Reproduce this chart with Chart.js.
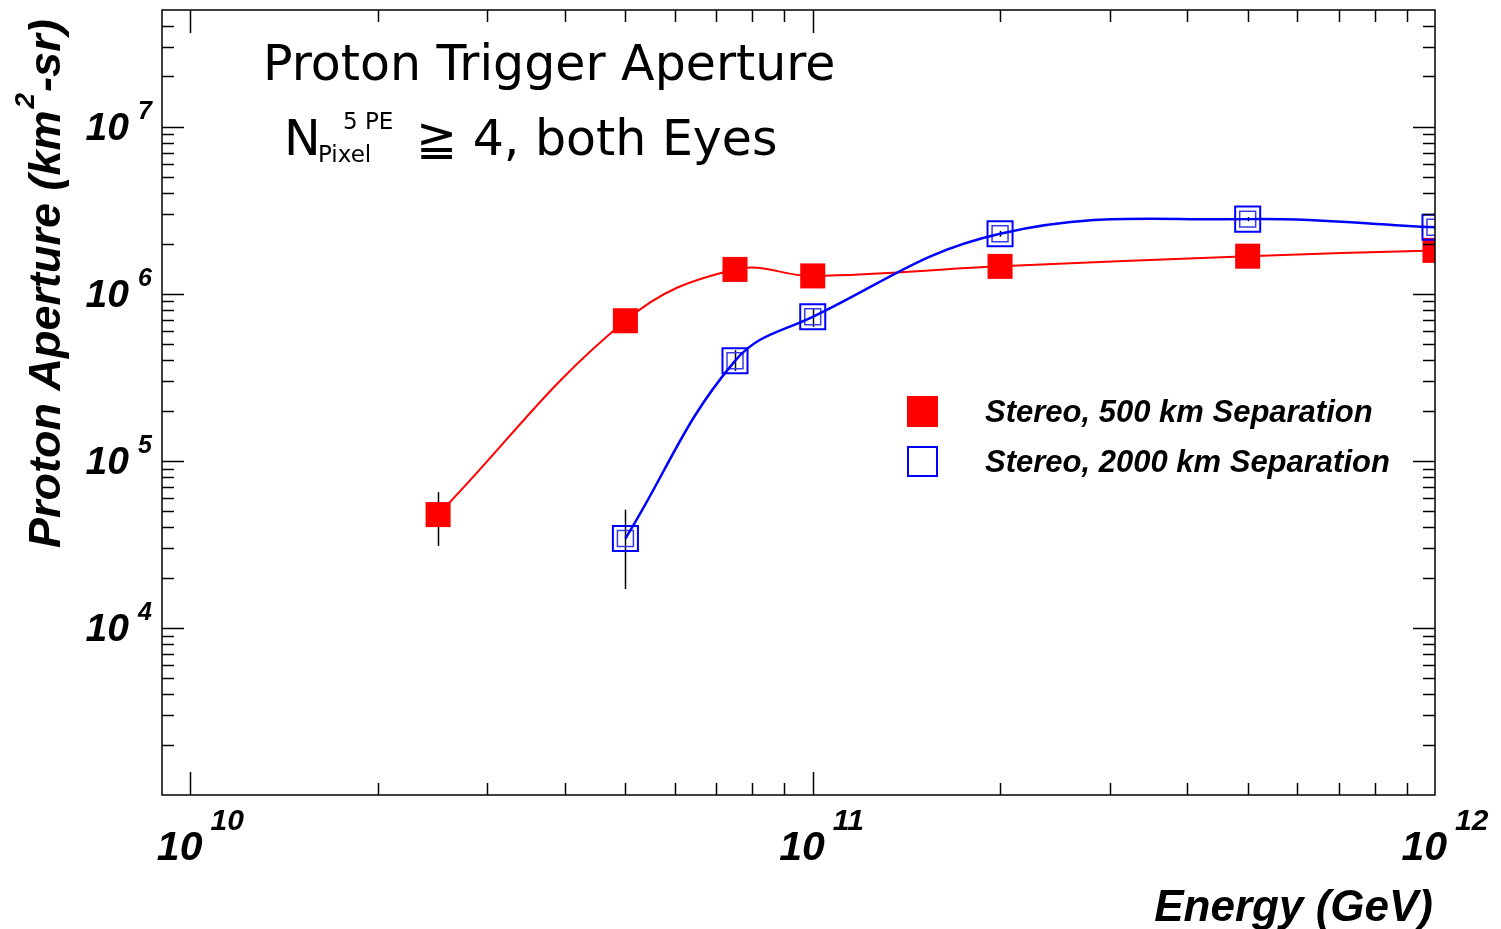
<!DOCTYPE html>
<html>
<head>
<meta charset="utf-8">
<script src="https://cdn.jsdelivr.net/npm/chart.js@4/dist/chart.umd.min.js"></script>
<style>
  html, body { margin: 0; padding: 0; background: #fff; }
  canvas { display: block; }
</style>
</head>
<body>
<canvas id="aperture" width="1501" height="929"></canvas>
<script>
// energies in GeV, aperture in km^2 sr
const energy500 = [2.5e10, 5e10, 7.5e10, 1e11, 2e11, 5e11, 1e12];
const aperture500 = [4.77e4, 6.9e5, 1.40e6, 1.28e6, 1.46e6, 1.68e6, 1.82e6];
const errLow500 = [3.1e4, 6.6e5, 1.36e6, 1.24e6, 1.42e6, 1.64e6, 1.78e6];
const errHigh500 = [6.5e4, 7.2e5, 1.44e6, 1.32e6, 1.50e6, 1.72e6, 1.86e6];

const energy2000 = [5e10, 7.5e10, 1e11, 2e11, 5e11, 1e12];
const aperture2000 = [3.43e4, 3.97e5, 7.28e5, 2.29e6, 2.8e6, 2.5e6];
const errLow2000 = [1.71e4, 3.45e5, 6.34e5, 2.2e6, 2.72e6, 2.42e6];
const errHigh2000 = [5.1e4, 4.6e5, 8.2e5, 2.38e6, 2.88e6, 2.58e6];

const seriesLabels = ['Stereo, 500 km Separation', 'Stereo, 2000 km Separation'];
const xDecades = [10, 11, 12];
const yDecades = [4, 5, 6, 7];

const RED = '#ff0000';
const BLUE = '#0000ff';
const LABEL_FONT = '"Liberation Sans", Arial, sans-serif';
const TITLE_FONT = '"DejaVu Sans", sans-serif';

function points(xs, ys) {
    return xs.map((x, i) => ({ x: x, y: ys[i] }));
}

// vertical error bars, drawn under the markers
const errorBars = {
    id: 'errorBars',
    beforeDatasetsDraw(chart) {
        const { ctx, scales: { x, y }, chartArea } = chart;
        const sets = [
            [energy500, errLow500, errHigh500],
            [energy2000, errLow2000, errHigh2000]
        ];
        ctx.save();
        ctx.beginPath();
        ctx.rect(chartArea.left, chartArea.top, chartArea.width, chartArea.height);
        ctx.clip();
        ctx.strokeStyle = '#000';
        ctx.lineWidth = 1.5;
        sets.forEach(([xs, lo, hi]) => {
            xs.forEach((e, i) => {
                const px = Math.round(x.getPixelForValue(e)) + 0.5;
                ctx.beginPath();
                ctx.moveTo(px, y.getPixelForValue(lo[i]));
                ctx.lineTo(px, y.getPixelForValue(hi[i]));
                ctx.stroke();
            });
        });
        ctx.restore();
    }
};

// closed frame with inward ticks on all four sides and 10^n labels
const rootFrame = {
    id: 'rootFrame',
    afterDatasetsDraw(chart) {
        const { ctx, scales: { x, y }, chartArea: a } = chart;
        ctx.save();
        ctx.strokeStyle = '#000';
        ctx.lineWidth = 1.5;
        ctx.strokeRect(a.left, a.top, a.right - a.left, a.bottom - a.top);

        const tick = (x1, y1, x2, y2) => {
            ctx.beginPath();
            ctx.moveTo(x1, y1);
            ctx.lineTo(x2, y2);
            ctx.stroke();
        };

        // x axis ticks
        for (let d = 9; d <= 11; d++) {
            for (let m = 1; m <= 9; m++) {
                const v = m * Math.pow(10, d);
                if (v <= x.min * 1.001 || v >= x.max * 0.999) continue;
                const px = Math.round(x.getPixelForValue(v)) + 0.5;
                const len = m === 1 ? 23 : 12;
                tick(px, a.bottom, px, a.bottom - len);
                tick(px, a.top, px, a.top + len);
            }
        }
        // y axis ticks
        for (let d = 3; d <= 7; d++) {
            for (let m = 1; m <= 9; m++) {
                const v = m * Math.pow(10, d);
                if (v <= y.min * 1.001 || v >= y.max * 0.999) continue;
                const py = Math.round(y.getPixelForValue(v)) + 0.5;
                const len = m === 1 ? 22 : 12;
                tick(a.left, py, a.left + len, py);
                tick(a.right, py, a.right - len, py);
            }
        }

        ctx.fillStyle = '#000';
        ctx.textBaseline = 'alphabetic';
        // x labels
        xDecades.forEach(d => {
            const px = x.getPixelForValue(Math.pow(10, d));
            ctx.font = 'italic bold 41px ' + LABEL_FONT;
            ctx.textAlign = 'right';
            ctx.fillText('10', px + 12, 860);
            ctx.font = 'italic bold 30px ' + LABEL_FONT;
            ctx.textAlign = 'left';
            ctx.fillText(String(d), px + 20, 830);
        });
        // y labels
        yDecades.forEach(d => {
            const py = y.getPixelForValue(Math.pow(10, d));
            ctx.font = 'italic bold 39px ' + LABEL_FONT;
            ctx.textAlign = 'right';
            ctx.fillText('10', 129, py + 13.5);
            ctx.font = 'italic bold 25px ' + LABEL_FONT;
            ctx.textAlign = 'left';
            ctx.fillText(String(d), 138, py - 8);
        });
        ctx.restore();
    }
};

// axis titles, plot title and the marker legend
const annotations = {
    id: 'annotations',
    afterDraw(chart) {
        const { ctx } = chart;
        ctx.save();
        ctx.fillStyle = '#000';
        ctx.textAlign = 'left';
        ctx.textBaseline = 'alphabetic';

        // x title
        ctx.font = 'italic bold 44px ' + LABEL_FONT;
        ctx.textAlign = 'right';
        ctx.fillText('Energy (GeV)', 1433, 921);

        // y title, rotated
        ctx.save();
        ctx.translate(60, 548);
        ctx.rotate(-Math.PI / 2);
        ctx.textAlign = 'left';
        ctx.font = 'italic bold 45px ' + LABEL_FONT;
        let cx = 0;
        const part1 = 'Proton Aperture (km';
        ctx.fillText(part1, cx, 0);
        cx += ctx.measureText(part1).width + 2;
        ctx.font = 'italic bold 28px ' + LABEL_FONT;
        ctx.fillText('2', cx, -26);
        cx += ctx.measureText('2').width + 1;
        ctx.font = 'italic bold 45px ' + LABEL_FONT;
        ctx.fillText('-sr)', cx, 0);
        ctx.restore();

        // plot title
        ctx.textAlign = 'left';
        ctx.font = '49px ' + TITLE_FONT;
        ctx.fillText('Proton Trigger Aperture', 263, 80);
        ctx.fillText('N', 284, 155);
        ctx.font = '23px ' + TITLE_FONT;
        ctx.fillText('Pixel', 318, 162);
        ctx.fillText('5 PE', 343, 129);
        ctx.font = '49px ' + TITLE_FONT;
        ctx.fillText('\u2267 4, both Eyes', 416, 155);

        // legend
        const ds = chart.data.datasets;
        ctx.fillStyle = ds[0].pointBackgroundColor;
        ctx.fillRect(907, 396, 31, 31);
        ctx.strokeStyle = ds[1].pointBorderColor;
        ctx.lineWidth = 2;
        ctx.strokeRect(908, 447, 29, 29);
        ctx.fillStyle = '#000';
        ctx.font = 'italic bold 31px ' + LABEL_FONT;
        ctx.fillText(seriesLabels[0], 985, 422);
        ctx.fillText(seriesLabels[1], 985, 472);
        ctx.restore();
    }
};

new Chart(document.getElementById('aperture'), {
    type: 'line',
    data: {
        datasets: [
            {
                label: seriesLabels[0],
                data: points(energy500, aperture500),
                borderColor: RED,
                borderWidth: 2,
                tension: 0.4,
                pointStyle: 'rect',
                pointRadius: 17.7,
                pointBackgroundColor: RED,
                pointBorderColor: RED,
                pointBorderWidth: 0,
                clip: 0,
                order: 3
            },
            {
                label: seriesLabels[1],
                data: points(energy2000, aperture2000),
                borderColor: BLUE,
                borderWidth: 2.5,
                tension: 0.4,
                pointStyle: 'rect',
                pointRadius: 17.7,
                pointBackgroundColor: 'rgba(0,0,0,0)',
                pointBorderColor: BLUE,
                pointBorderWidth: 2,
                clip: 0,
                order: 1
            },
            {
                // inner box of the open markers
                label: 'inner',
                data: points(energy2000, aperture2000),
                showLine: false,
                pointStyle: 'rect',
                pointRadius: 11.3,
                pointBackgroundColor: 'rgba(0,0,0,0)',
                pointBorderColor: '#3a3ae6',
                pointBorderWidth: 1.5,
                clip: 0,
                order: 2
            }
        ]
    },
    options: {
        responsive: false,
        devicePixelRatio: 1,
        animation: false,
        events: [],
        layout: {
            autoPadding: false,
            padding: { left: 162, right: 66, top: 10, bottom: 134 }
        },
        plugins: {
            legend: { display: false },
            tooltip: { enabled: false }
        },
        scales: {
            x: { type: 'logarithmic', min: 9e9, max: 1e12, display: false },
            y: { type: 'logarithmic', min: 1e3, max: 5e7, display: false }
        }
    },
    plugins: [errorBars, rootFrame, annotations]
});
</script>
</body>
</html>
